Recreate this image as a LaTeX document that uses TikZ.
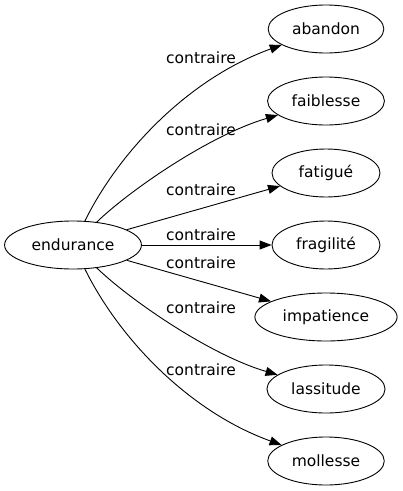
\documentclass[tikz,border=0pt]{standalone}
\usepackage{fontspec}
\setmainfont{DejaVu Sans}
\usetikzlibrary{arrows.meta}
\usetikzlibrary{shapes.geometric}

\begin{document}
\begin{tikzpicture}[x=1pt, y=-1pt, >={Triangle[length=12pt,width=9pt]},
  word/.style={ellipse, draw, line width=0.9pt, minimum height=48pt, minimum width=108pt, inner xsep=7pt, font=\fontsize{15.5}{18}\selectfont},
  rel/.style={font=\fontsize{15.5}{18}\selectfont, inner sep=0pt},
  link/.style={->, line width=0.9pt}]
\useasboundingbox (0,0) rectangle (403,491);
\node [word] (endurance) at (73,245) {endurance};
\node [word] (abandon) at (326,29) {abandon};
\node [word] (faiblesse) at (326,101) {faiblesse};
\node [word] (fatigue) at (326,173) {fatigué};
\node [word] (fragilite) at (326,245) {fragilité};
\node [word] (impatience) at (326,317) {impatience};
\node [word] (lassitude) at (326,389) {lassitude};
\node [word] (mollesse) at (326,461) {mollesse};
\draw [link] (endurance) .. controls (120,150) and (190,78) .. (abandon);
\draw [link] (endurance) .. controls (130,190) and (210,135) .. (faiblesse);
\draw [link] (endurance) -- (fatigue);
\draw [link] (endurance) -- (fragilite);
\draw [link] (endurance) -- (impatience);
\draw [link] (endurance) .. controls (130,300) and (210,355) .. (lassitude);
\draw [link] (endurance) .. controls (120,340) and (190,412) .. (mollesse);
\node [rel] (r1) at (201,58) {contraire};
\node [rel] (r2) at (201,130) {contraire};
\node [rel] (r3) at (201,190) {contraire};
\node [rel] (r4) at (201,234.5) {contraire};
\node [rel] (r5) at (201,262.5) {contraire};
\node [rel] (r6) at (201,307.5) {contraire};
\node [rel] (r7) at (201,369.5) {contraire};
\end{tikzpicture}
\end{document}
